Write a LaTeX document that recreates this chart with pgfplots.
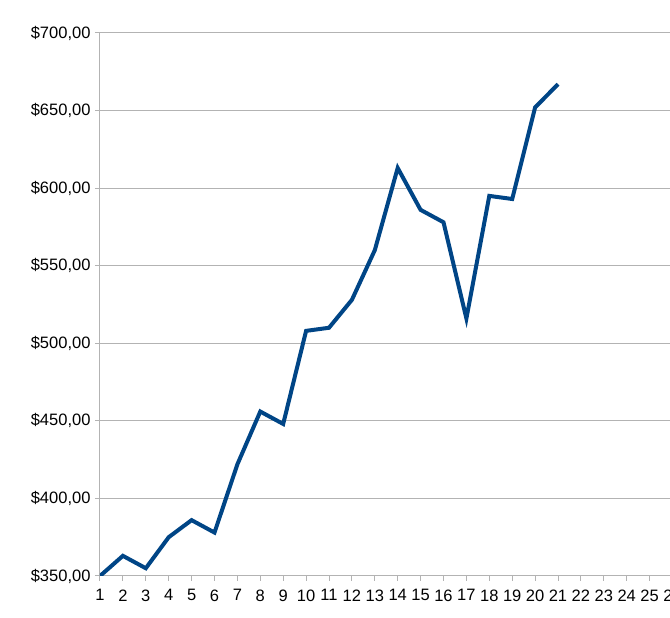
\documentclass[border=0pt]{standalone}
\usepackage{pgfplots}
\pgfplotsset{compat=1.18}
\usepackage{fontspec}
\setmainfont{Liberation Sans}
\definecolor{gridgray}{HTML}{B3B3B3}
\definecolor{series}{HTML}{004586}
\begin{document}
\begin{tikzpicture}
\begin{axis}[
  at={(100pt,42pt)}, anchor=south west,
  scale only axis, width=595.4pt, height=543pt,
  xmin=1, xmax=27, ymin=350, ymax=700,
  xtick={1,...,27},
  ytick={350,400,450,500,550,600,650,700},
  yticklabels={{\$350,00},{\$400,00},{\$450,00},{\$500,00},{\$550,00},{\$600,00},{\$650,00},{\$700,00}},
  /pgf/number format/assume math mode=true,
  axis lines*=left,
  axis line style={gridgray, line width=1pt},
  ymajorgrids, grid style={gridgray, line width=1pt},
  tick style={gridgray, line width=1pt},
  tick align=outside, major tick length=5pt,
  tick label style={font=\fontsize{16.5}{19}\selectfont, text=black},
  xticklabel style={yshift=-5pt},
  yticklabel style={xshift=-1pt},
]
\addplot[series, line width=4pt] coordinates {
(1,350) (2,363) (3,355) (4,375) (5,386) (6,378) (7,422) (8,456) (9,448)
(10,508) (11,510) (12,528) (13,560) (14,613) (15,586) (16,578) (17,516)
(18,595) (19,593) (20,652) (21,667)
};
\end{axis}
\pgfresetboundingbox
\path[use as bounding box] (0pt,0pt) rectangle (670pt,618pt);
\end{tikzpicture}
\end{document}
